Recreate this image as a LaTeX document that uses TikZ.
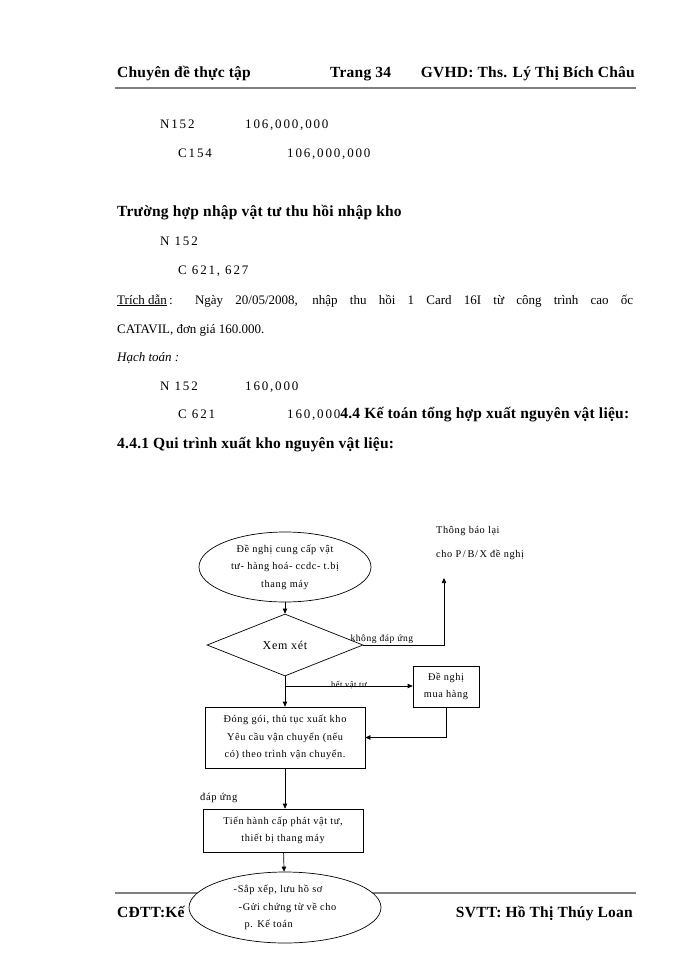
\documentclass[tikz,border=0pt]{standalone}
\usepackage{fontspec}
\setmainfont{Liberation Serif}
\newfontfamily\flowfont{Liberation Serif}[LetterSpace=6]
\newfontfamily\wideserif{Liberation Serif}[LetterSpace=14]
\newfontfamily\headfont{Liberation Serif}[LetterSpace=1.5]
\usetikzlibrary{arrows.meta, shapes.geometric, positioning}
\tikzset{
    body/.style={anchor=base west, inner sep=0pt, font=\fontsize{13}{16}\selectfont},
    amount/.style={body, font=\wideserif\fontsize{13}{16}\selectfont},
    head/.style={anchor=base west, inner sep=0pt, font=\headfont\fontsize{15.5}{18}\selectfont\bfseries},
    rule/.style={draw=gray, line width=2.6pt},
    flow/.style={inner sep=0pt, align=center, font=\flowfont\fontsize{10.3}{17.5}\selectfont},
    lbl/.style={inner sep=0pt, font=\flowfont\fontsize{9.5}{11}\selectfont},
    procbox/.style={flow, draw, line width=0.7pt},
    term/.style={flow, draw, line width=0.7pt, ellipse, fill=white},
    decide/.style={flow, draw, line width=0.7pt, diamond, aspect=2.5,
        minimum width=156pt, minimum height=62pt, font=\flowfont\fontsize{12}{14}\selectfont},
    link/.style={draw, line width=0.7pt, -{Triangle[length=5pt, width=4.5pt]}},
}
\begin{document}
\begin{tikzpicture}[x=1pt, y=-1pt]
    \useasboundingbox (0,0) rectangle (700,960);
    % page header
    \draw[rule] (115,88) -- (636,88);
    \node[head] (hleft) at (117,78) {Chuyên đề thực tập};
    \node[head] (hmid) at (330,78) {Trang 34};
    \node[head, anchor=base east] (hright) at (635,78) {GVHD: Ths. Lý Thị Bích Châu};

    % entries
    \node[amount] (n1) at (160,129) {N152};
    \node[amount] (n1v) at (245,129) {106,000,000};
    \node[amount] (c1) at (178,158) {C154};
    \node[amount] (c1v) at (287,158) {106,000,000};
    \node[head] (case) at (117,216) {Trường hợp nhập vật tư thu hồi nhập kho};
    \node[amount] (n2) at (160,245) {N 152};
    \node[amount] (c2) at (178,274) {C 621, 627};
    \node[body] (quote1) at (117,304)
        {\makebox[516pt][s]{\underline{Trích dẫn}\,: Ngày 20/05/2008, nhập thu hồi 1 Card  16I từ công trình cao ốc}};
    \node[body] (quote2) at (117,333) {CATAVIL, đơn giá 160.000.};
    \node[body, font=\fontsize{13}{16}\selectfont\itshape] (post) at (117,361) {Hạch toán :};
    \node[amount] (n3) at (160,390) {N 152};
    \node[amount] (n3v) at (245,390) {160,000};
    \node[amount] (c3) at (178,418) {C 621};
    \node[amount] (c3v) at (287,418)
        {160,000{\headfont\fontsize{15.5}{18}\selectfont\bfseries 4.4 Kế toán tổng hợp xuất nguyên vật liệu:}};
    \node[head] (sec) at (117,448) {4.4.1 Qui trình xuất kho nguyên vật liệu:};

    % page footer, under the last ellipse
    \draw[rule] (115,893) -- (636,893);
    \node[head] (fleft) at (117,917) {CĐTT:Kế};
    \node[head, anchor=base east] (fright) at (633,917) {SVTT: Hồ Thị Thúy Loan};

    % flow chart
    \node[term, minimum width=172pt, minimum height=70pt] (req) at (285,567)
        {Đề nghị cung cấp vật\\tư- hàng hoá- ccdc- t.bị\\thang máy};
    \node[decide] (xem) at (285,645) {Xem xét};
    \node[procbox, minimum width=66pt, minimum height=41pt] (buy) at (446,686.5)
        {Đề nghị\\mua hàng};
    \node[procbox, minimum width=160pt, minimum height=61pt] (pack) at (285,737.5)
        {Đóng gói, thủ tục xuất kho\\Yêu cầu vận chuyển (nếu\\có) theo trình vận chuyển.};
    \node[procbox, minimum width=160pt, minimum height=43pt] (issue) at (283,830.5)
        {Tiến hành cấp phát vật tư,\\thiết bị thang máy};
    \node[term, minimum width=192pt, minimum height=71pt, align=left] (file) at (285,907.5)
        {-Sắp xếp, lưu hồ sơ\\\hspace*{5pt}-Gửi chứng từ về cho\\\hspace*{11pt}p. Kế toán};
    \node[flow, anchor=base west] (note1) at (436,533) {Thông báo lại};
    \node[flow, anchor=base west] (note2) at (436,557) {cho P\,/\,B/\,X đề nghị};
    \coordinate (up) at (444,578);
    \coordinate (split) at (285,686);

    \draw[link] (req) -- (xem);
    \draw[link] (xem.east) -| (up);
    \node[lbl, anchor=base west] (nolbl) at ([xshift=-13pt, yshift=4pt]xem.east) {không đáp ứng};
    \draw[link] (xem) -- (pack);
    \draw[link] (split) -- node[lbl, font=\flowfont\fontsize{8.5}{10}\selectfont, yshift=1pt] (outlbl) {hết vật tư} (split -| buy.west);
    \draw[link] (buy.south) |- (pack.east);
    \draw[link] (pack.south) -- (pack.south |- issue.north);
    \node[lbl, anchor=base west, font=\flowfont\fontsize{10.5}{12}\selectfont] (oklbl) at (200,800) {đáp ứng};
    \draw[link] (issue) -- (file);
\end{tikzpicture}
\end{document}
